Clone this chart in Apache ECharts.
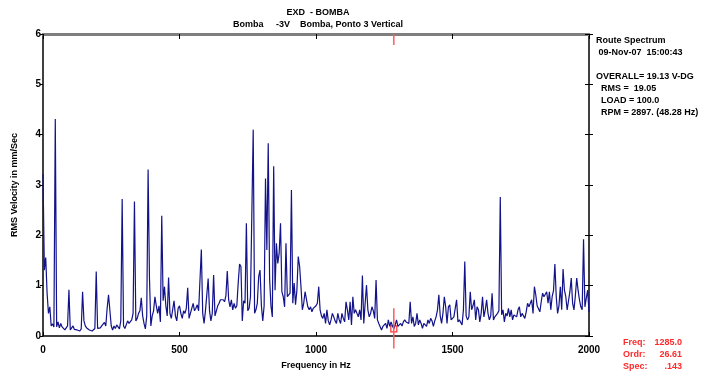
<!DOCTYPE html>
<html>
<head>
<meta charset="utf-8">
<script src="https://cdn.jsdelivr.net/npm/echarts@6/dist/echarts.min.js"></script>
<style>
  html, body { margin: 0; padding: 0; background: #fff; }
  #chart { width: 701px; height: 373px; }
</style>
</head>
<body>
<div id="chart"></div>
<script>
// RMS velocity (mm/s), one line every 5 Hz
const freqStep = 5;
const amp0to495 = [
  3.22, 1.31, 1.56, 0.85, 0.45, 0.58, 0.20, 0.24, 0.18, 4.31, 0.18, 0.28, 0.16, 0.25, 0.18, 0.15, 0.12, 0.15, 0.20, 0.92,
  0.12, 0.15, 0.20, 0.13, 0.10, 0.12, 0.10, 0.10, 0.14, 0.88, 0.30, 0.20, 0.16, 0.15, 0.12, 0.12, 0.10, 0.11, 0.15, 1.28,
  0.15, 0.12, 0.16, 0.20, 0.22, 0.27, 0.20, 0.55, 0.82, 0.79, 0.20, 0.12, 0.20, 0.15, 0.22, 0.20, 0.14, 0.30, 2.72, 0.20,
  0.15, 0.18, 0.30, 0.25, 0.28, 0.32, 0.45, 2.67, 0.30, 0.35, 0.45, 0.50, 0.76, 0.40, 0.25, 0.14, 0.40, 3.31, 1.15, 0.20,
  0.40, 0.50, 0.78, 0.60, 0.45, 0.60, 0.28, 2.39, 0.70, 0.98, 0.60, 0.40, 1.16, 0.45, 0.35, 0.35, 0.70, 0.40, 0.30, 0.55
];
const amp500to995 = [
  0.60, 0.45, 0.35, 0.50, 0.45, 0.55, 0.96, 0.35, 0.45, 0.55, 0.65, 0.50, 0.55, 0.62, 0.50, 0.48, 1.72, 0.45, 0.25, 0.50,
  0.50, 1.14, 0.50, 0.30, 0.45, 1.21, 0.40, 0.50, 0.60, 0.65, 0.72, 0.75, 0.72, 0.68, 0.80, 1.29, 0.72, 0.58, 0.72, 0.52,
  0.65, 0.55, 0.60, 1.05, 1.43, 1.38, 0.30, 0.70, 0.65, 2.24, 0.50, 0.55, 0.78, 0.80, 4.10, 0.45, 0.52, 0.65, 1.18, 1.31,
  0.60, 0.30, 0.60, 3.13, 1.71, 3.83, 1.15, 0.60, 0.38, 3.37, 0.91, 1.84, 1.44, 1.64, 2.24, 0.88, 0.78, 0.58, 1.84, 0.78,
  0.78, 0.85, 2.90, 0.65, 1.05, 0.62, 0.91, 1.58, 1.38, 0.98, 0.52, 0.65, 0.88, 0.85, 0.58, 0.52, 0.58, 0.48, 0.55, 0.52
];
const amp1000to1495 = [
  0.60, 0.65, 0.98, 0.52, 0.40, 0.35, 0.45, 0.25, 0.52, 0.30, 0.22, 0.32, 0.45, 0.38, 0.30, 0.25, 0.45, 0.32, 0.25, 0.45,
  0.35, 0.28, 0.68, 0.52, 0.32, 0.68, 0.22, 0.78, 0.45, 0.52, 0.45, 0.38, 0.52, 0.32, 1.20, 0.25, 0.65, 1.01, 0.52, 0.38,
  0.45, 0.58, 0.50, 0.35, 1.11, 0.32, 0.25, 0.25, 0.12, 0.19, 0.22, 0.25, 0.15, 0.32, 0.19, 0.28, 0.20, 0.143, 0.22, 0.32,
  0.19, 0.22, 0.25, 0.20, 0.28, 0.32, 0.28, 0.30, 0.25, 0.68, 0.25, 0.38, 0.19, 0.25, 0.45, 0.22, 0.32, 0.25, 0.15, 0.25,
  0.25, 0.19, 0.32, 0.25, 0.35, 0.30, 0.19, 0.30, 0.38, 0.52, 0.82, 0.40, 0.25, 0.45, 0.78, 0.58, 0.25, 0.58, 0.62, 0.32
];
const amp1500to2000 = [
  0.32, 0.38, 0.38, 0.72, 0.28, 0.32, 0.30, 0.22, 0.52, 1.48, 0.40, 0.32, 0.38, 0.88, 0.52, 0.60, 0.72, 0.32, 0.58, 0.52,
  0.28, 0.45, 0.78, 0.38, 0.52, 0.72, 0.45, 0.32, 0.40, 0.85, 0.32, 0.38, 0.40, 0.45, 0.50, 2.76, 0.42, 0.52, 0.28, 0.45,
  0.40, 0.55, 0.38, 0.52, 0.32, 0.42, 0.42, 0.38, 0.52, 0.58, 0.38, 0.45, 0.45, 0.35, 0.48, 0.65, 0.58, 0.58, 0.72, 0.45,
  0.98, 0.82, 0.60, 0.58, 0.48, 0.68, 0.85, 0.78, 0.78, 0.88, 0.65, 0.88, 0.52, 0.78, 0.90, 1.43, 0.78, 0.45, 0.60, 0.98,
  0.52, 1.33, 0.91, 0.78, 0.52, 0.70, 0.88, 1.15, 0.65, 0.52, 0.80, 1.15, 0.91, 0.72, 0.58, 0.52, 1.92, 0.58, 0.75, 0.91, 0.48
];

// cursor readout
const cursorFreq = 1285.0;
const cursorOrder = 26.61;
const cursorSpec = 0.143;

const headerLines = ["EXD  - BOMBA", "Bomba     -3V    Bomba, Ponto 3 Vertical"];
const infoLines = [
  "Route Spectrum",
  " 09-Nov-07  15:00:43",
  "",
  "OVERALL= 19.13 V-DG",
  "  RMS =  19.05",
  "  LOAD = 100.0",
  "  RPM = 2897. (48.28 Hz)"
];

const amps = [].concat(amp0to495, amp500to995, amp1000to1495, amp1500to2000);
const spectrum = amps.map((v, i) => [i * freqStep, v]);

const FONT = "'Liberation Sans', Arial, Helvetica, sans-serif";
const bold = { color: "#000", fontWeight: "bold", fontFamily: FONT };

const chart = echarts.init(document.getElementById("chart"));

const graphics = [];
headerLines.forEach((t, i) => {
  graphics.push({
    type: "text", x: 318, y: 13 + i * 12,
    style: { text: t, fill: "#000", font: "bold 9px " + FONT, align: "center", verticalAlign: "middle" }
  });
});
infoLines.forEach((t, i) => {
  graphics.push({
    type: "text", x: 596, y: 41 + i * 12,
    style: { text: t, fill: "#000", font: "bold 9px " + FONT, align: "left", verticalAlign: "middle" }
  });
});
const readout = [
  ["Freq:", cursorFreq.toFixed(1)],
  ["Ordr:", cursorOrder.toFixed(2)],
  ["Spec:", cursorSpec.toFixed(3).replace(/^0/, "")]
];
readout.forEach((r, i) => {
  graphics.push({
    type: "text", x: 623, y: 343 + i * 12,
    style: { text: r[0], fill: "#ff2a2a", font: "bold 9px " + FONT, align: "left", verticalAlign: "middle" }
  });
  graphics.push({
    type: "text", x: 682, y: 343 + i * 12,
    style: { text: r[1], fill: "#ff2a2a", font: "bold 9px " + FONT, align: "right", verticalAlign: "middle" }
  });
});

const noSep = (v) => String(v);

chart.setOption({
  animation: false,
  grid: { left: 43, top: 34, width: 546, height: 302, containLabel: false, outerBoundsMode: "none" },
  xAxis: [
    {
      type: "value", min: 0, max: 2000, interval: 500, position: "bottom",
      axisLine: { onZero: false, lineStyle: { color: "#000", width: 1.5 } },
      axisTick: { inside: true, length: 4, lineStyle: { color: "#000" } },
      axisLabel: { ...bold, fontSize: 10, margin: 9, formatter: noSep },
      splitLine: { show: false },
      name: "Frequency in Hz", nameLocation: "middle", nameGap: 25,
      nameTextStyle: { ...bold, fontSize: 9 }
    },
    {
      type: "value", min: 0, max: 2000, interval: 500, position: "top",
      axisLine: { onZero: false, lineStyle: { color: "#7f7f7f", width: 3 } },
      axisTick: { inside: true, length: 5, lineStyle: { color: "#000" } },
      axisLabel: { show: false },
      splitLine: { show: false }
    }
  ],
  yAxis: [
    {
      type: "value", min: 0, max: 6, interval: 1, position: "left",
      axisLine: { onZero: false, lineStyle: { color: "#000", width: 1.5 } },
      axisTick: { length: 3, lineStyle: { color: "#000" } },
      axisLabel: { ...bold, fontSize: 10, margin: 2 },
      splitLine: { show: false },
      name: "RMS Velocity in mm/Sec", nameLocation: "middle", nameGap: 24,
      nameTextStyle: { ...bold, fontSize: 9 }
    },
    {
      type: "value", min: 0, max: 6, interval: 1, position: "right",
      axisLine: { onZero: false, lineStyle: { color: "#000", width: 1.5 } },
      axisTick: { inside: true, length: 4, lineStyle: { color: "#000" } },
      axisLabel: { show: false },
      splitLine: { show: false }
    },
    {
      type: "value", min: 0, max: 6, interval: 1, position: "right",
      axisLine: { show: false, onZero: false },
      axisTick: { length: 4, lineStyle: { color: "#000" } },
      axisLabel: { show: false },
      splitLine: { show: false }
    }
  ],
  series: [
    {
      type: "line", data: spectrum, symbol: "none", silent: true,
      lineStyle: { color: "#12128a", width: 1.2 }
    },
    {
      // cursor, lower part
      type: "line", data: [[cursorFreq, 0.55], [cursorFreq, -0.25]], symbol: "none",
      clip: false, silent: true, lineStyle: { color: "#ff5a5a", width: 1.5 }
    },
    {
      // cursor, top part
      type: "line", data: [[cursorFreq, 6], [cursorFreq, 5.78]], symbol: "none",
      clip: false, silent: true, lineStyle: { color: "#ff5a5a", width: 1.5 }
    },
    {
      type: "scatter", data: [[cursorFreq, cursorSpec]], symbol: "rect", symbolSize: 6,
      silent: true, itemStyle: { color: "rgba(0,0,0,0)", borderColor: "#ff0000", borderWidth: 1.2 }
    }
  ],
  graphic: graphics
});
</script>
</body>
</html>
